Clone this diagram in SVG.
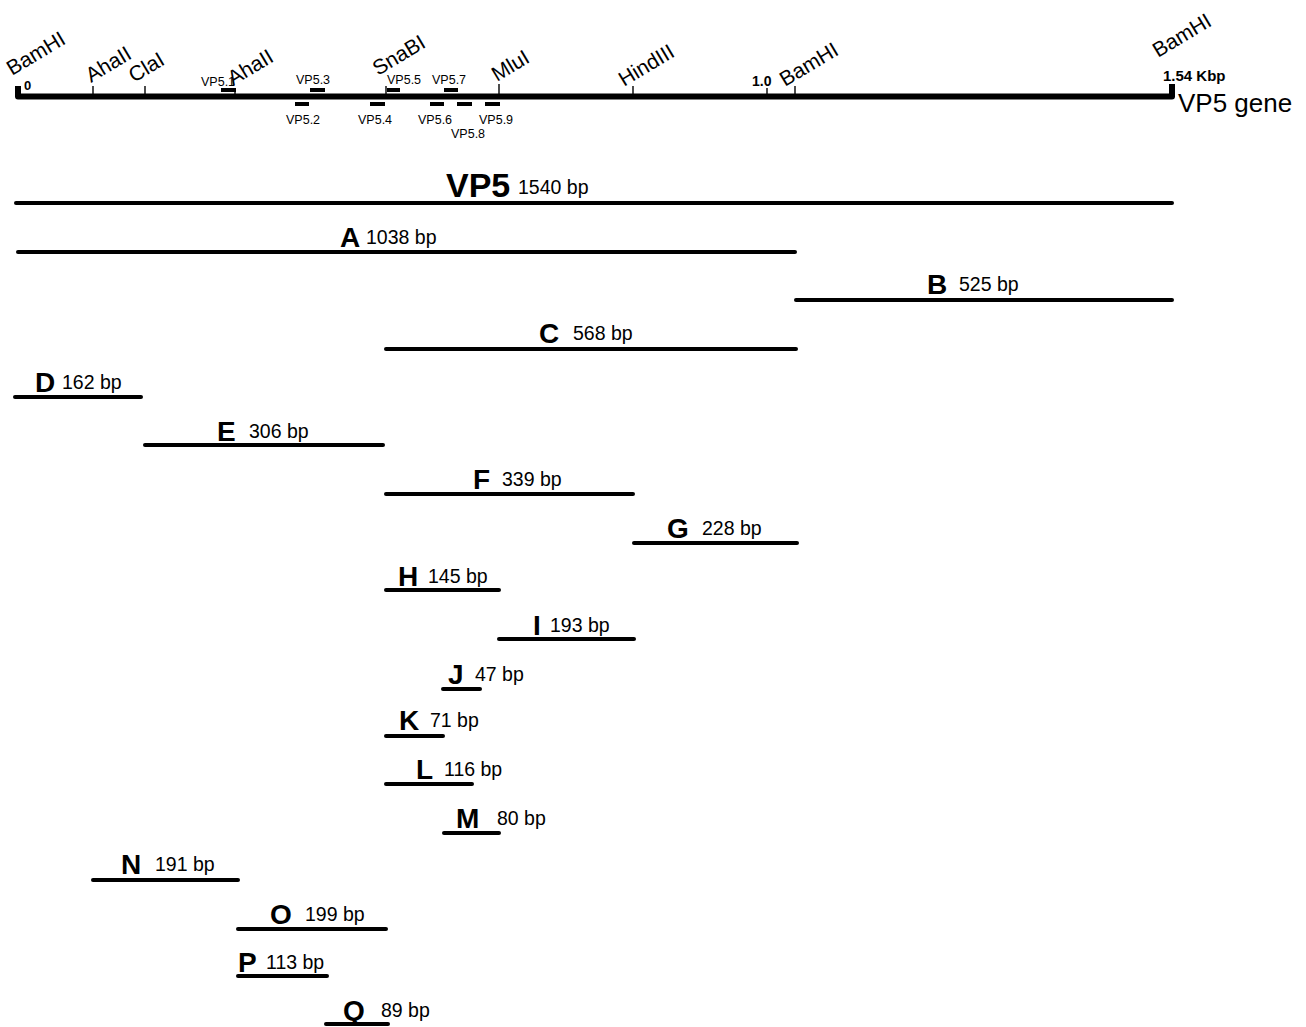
<svg xmlns="http://www.w3.org/2000/svg" width="1306" height="1027" viewBox="0 0 1306 1027">
<style>
text{font-family:"Liberation Sans",Arial,sans-serif;fill:#000}
.site{font-size:21px}
.pr{font-size:12.5px}
.bold{font-weight:bold}
.frag{stroke:#000;stroke-width:4;stroke-linecap:round;fill:none}
.bar{stroke:#000;stroke-width:4;fill:none}
.tick{stroke:#000;stroke-width:1.4;fill:none}
.let{font-size:28px;font-weight:bold}
.bp{font-size:19.5px}
</style>
<rect width="1306" height="1027" fill="#fff"/>
<g id="gene-map">
<path d="M18 86 V96.5 H1172 V84" stroke="#000" stroke-width="6" fill="none" stroke-linejoin="round"/>
<g class="tick">
<line x1="93" y1="86" x2="93" y2="96"/>
<line x1="145" y1="86" x2="145" y2="96"/>
<line x1="235" y1="88" x2="235" y2="96"/>
<line x1="386" y1="86" x2="386" y2="96"/>
<line x1="499" y1="84" x2="499" y2="96"/>
<line x1="633" y1="86" x2="633" y2="96"/>
<line x1="767" y1="88" x2="767" y2="96"/>
<line x1="795" y1="86" x2="795" y2="96"/>
</g>
<text class="site" transform="translate(12,76) rotate(-31)">BamHI</text>
<text class="site" transform="translate(91,83) rotate(-31)">AhaII</text>
<text class="site" transform="translate(134,83) rotate(-31)">ClaI</text>
<text class="site" transform="translate(233,86) rotate(-31)">AhaII</text>
<text class="site" transform="translate(378,76) rotate(-31)">SnaBI</text>
<text class="site" transform="translate(497,82) rotate(-31)">MluI</text>
<text class="site" transform="translate(624,87) rotate(-31)">HindIII</text>
<text class="site" transform="translate(785,87) rotate(-31)">BamHI</text>
<text class="site" transform="translate(1158,58) rotate(-31)">BamHI</text>
<text class="bold" x="24" y="90" font-size="13">0</text>
<text class="bold" x="752" y="86" font-size="14">1.0</text>
<text class="bold" x="1163" y="81" font-size="15">1.54 Kbp</text>
<text x="1178" y="112" font-size="26">VP5 gene</text>
</g>
<g id="primers">
<g class="bar">
<line x1="221" y1="90" x2="236" y2="90"/>
<line x1="310" y1="90" x2="325" y2="90"/>
<line x1="387" y1="90" x2="400" y2="90"/>
<line x1="444" y1="90" x2="458" y2="90"/>
<line x1="295" y1="104" x2="309" y2="104"/>
<line x1="370" y1="104" x2="385" y2="104"/>
<line x1="430" y1="104" x2="444" y2="104"/>
<line x1="457" y1="104" x2="472" y2="104"/>
<line x1="485" y1="104" x2="500" y2="104"/>
</g>
<text class="pr" x="201" y="86">VP5.1</text>
<text class="pr" x="296" y="84">VP5.3</text>
<text class="pr" x="387" y="84">VP5.5</text>
<text class="pr" x="432" y="84">VP5.7</text>
<text class="pr" x="286" y="124">VP5.2</text>
<text class="pr" x="358" y="124">VP5.4</text>
<text class="pr" x="418" y="124">VP5.6</text>
<text class="pr" x="451" y="138">VP5.8</text>
<text class="pr" x="479" y="124">VP5.9</text>
</g>
<g id="connectors">
<line class="frag" x1="16" y1="203" x2="1172" y2="203"/>
<line class="frag" x1="18" y1="252" x2="795" y2="252"/>
<line class="frag" x1="796" y1="300" x2="1172" y2="300"/>
<line class="frag" x1="386" y1="349" x2="796" y2="349"/>
<line class="frag" x1="15" y1="397" x2="141" y2="397"/>
<line class="frag" x1="145" y1="445" x2="383" y2="445"/>
<line class="frag" x1="386" y1="494" x2="633" y2="494"/>
<line class="frag" x1="634" y1="543" x2="797" y2="543"/>
<line class="frag" x1="386" y1="590" x2="499" y2="590"/>
<line class="frag" x1="499" y1="639" x2="634" y2="639"/>
<line class="frag" x1="443" y1="689" x2="480" y2="689"/>
<line class="frag" x1="386" y1="736" x2="443" y2="736"/>
<line class="frag" x1="386" y1="784" x2="472" y2="784"/>
<line class="frag" x1="444" y1="833" x2="499" y2="833"/>
<line class="frag" x1="93" y1="880" x2="238" y2="880"/>
<line class="frag" x1="238" y1="929" x2="386" y2="929"/>
<line class="frag" x1="238" y1="976" x2="327" y2="976"/>
<line class="frag" x1="326" y1="1024" x2="388" y2="1024"/>
</g>
<g id="VP5"><text x="446" y="197" font-size="34" font-weight="bold">VP5</text><text class="bp" x="518" y="194">1540 bp</text></g>
<g id="A"><text class="let" x="340" y="247">A</text><text class="bp" x="366" y="244">1038 bp</text></g>
<g id="B"><text class="let" x="927" y="294">B</text><text class="bp" x="959" y="291">525 bp</text></g>
<g id="C"><text class="let" x="539" y="343">C</text><text class="bp" x="573" y="340">568 bp</text></g>
<g id="D"><text class="let" x="35" y="392">D</text><text class="bp" x="62" y="389">162 bp</text></g>
<g id="E"><text class="let" x="217" y="441">E</text><text class="bp" x="249" y="438">306 bp</text></g>
<g id="F"><text class="let" x="473" y="489">F</text><text class="bp" x="502" y="486">339 bp</text></g>
<g id="G"><text class="let" x="667" y="538">G</text><text class="bp" x="702" y="535">228 bp</text></g>
<g id="H"><text class="let" x="398" y="586">H</text><text class="bp" x="428" y="583">145 bp</text></g>
<g id="I"><text class="let" x="533" y="635">I</text><text class="bp" x="550" y="632">193 bp</text></g>
<g id="J"><text class="let" x="448" y="684">J</text><text class="bp" x="475" y="681">47 bp</text></g>
<g id="K"><text class="let" x="399" y="730">K</text><text class="bp" x="430" y="727">71 bp</text></g>
<g id="L"><text class="let" x="416" y="779">L</text><text class="bp" x="444" y="776">116 bp</text></g>
<g id="M"><text class="let" x="456" y="828">M</text><text class="bp" x="497" y="825">80 bp</text></g>
<g id="N"><text class="let" x="121" y="874">N</text><text class="bp" x="155" y="871">191 bp</text></g>
<g id="O"><text class="let" x="270" y="924">O</text><text class="bp" x="305" y="921">199 bp</text></g>
<g id="P"><text class="let" x="238" y="972">P</text><text class="bp" x="266" y="969">113 bp</text></g>
<g id="Q"><text class="let" x="343" y="1020">Q</text><text class="bp" x="381" y="1017">89 bp</text></g>
</svg>
